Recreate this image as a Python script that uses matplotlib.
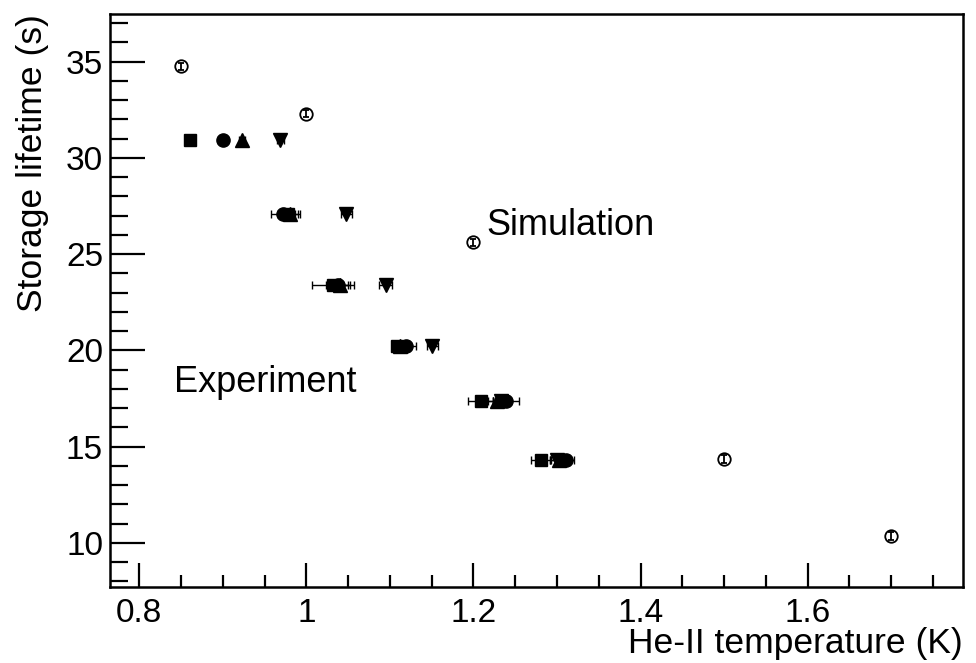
import numpy as np
import matplotlib
matplotlib.use("Agg")
import matplotlib.pyplot as plt
from matplotlib.ticker import MultipleLocator

plt.rcParams['font.family'] = ['Liberation Sans', 'DejaVu Sans']

# experiment: storage lifetime (s) shared by the four data sets
lifetime = [30.9, 27.1, 23.4, 20.2, 17.35, 14.3]

sq_T = [0.861, 0.978, 1.032, 1.108, 1.209, 1.281]
sq_err = [0.004, 0.012, 0.025, 0.006, 0.015, 0.012]
circ_T = [0.900, 0.972, 1.038, 1.119, 1.239, 1.311]
circ_err = [0.004, 0.014, 0.014, 0.012, 0.015, 0.009]
tup_T = [0.923, 0.981, 1.040, 1.112, 1.228, 1.302]
tup_err = [0.004, 0.012, 0.010, 0.008, 0.010, 0.010]
tdn_T = [0.969, 1.048, 1.095, 1.151, 1.233, 1.300]
tdn_err = [0.004, 0.007, 0.008, 0.006, 0.010, 0.008]

# simulation
sim_T = [0.85, 1.0, 1.2, 1.5, 1.7]
sim_tau = [34.75, 32.3, 25.6, 14.35, 10.35]
sim_err = [0.2, 0.2, 0.2, 0.2, 0.2]

fig = plt.figure(figsize=(9.76, 6.63), dpi=100)
ax = fig.add_axes([0.1127, 0.1146, 0.874, 0.864])

sets = [(sq_T, sq_err, 's', 9), (circ_T, circ_err, 'o', 9.5),
        (tup_T, tup_err, '^', 10), (tdn_T, tdn_err, 'v', 10)]
for T, err, mk, ms in sets:
    ax.errorbar(T, lifetime, xerr=err, fmt=mk, color='black', ms=ms,
                elinewidth=1, capsize=3, capthick=1)

ax.errorbar(sim_T, sim_tau, yerr=sim_err, fmt='o', mfc='none', mec='black',
            mew=1.3, ms=9, color='black', elinewidth=1.3, capsize=2.5, capthick=1.3)

ax.text(1.215, 25.98, 'Simulation', fontsize=26, va='baseline')
ax.text(0.842, 17.82, 'Experiment', fontsize=26, va='baseline')

ax.set_xlim(0.765, 1.786)
ax.set_ylim(7.7, 37.46)
ax.xaxis.set_major_locator(MultipleLocator(0.2))
ax.xaxis.set_minor_locator(MultipleLocator(0.05))
ax.yaxis.set_major_locator(MultipleLocator(5))
ax.yaxis.set_minor_locator(MultipleLocator(1))
ax.set_xticks([0.8, 1.0, 1.2, 1.4, 1.6])
ax.set_xticklabels(['0.8', '1', '1.2', '1.4', '1.6'])

ax.tick_params(axis='both', which='both', direction='in', top=False, right=False,
               labelsize=24, width=1.6)
ax.tick_params(axis='x', which='major', length=17, pad=8)
ax.tick_params(axis='x', which='minor', length=9)
ax.tick_params(axis='y', which='major', length=25, pad=5)
ax.tick_params(axis='y', which='minor', length=13)
for s in ax.spines.values():
    s.set_linewidth(1.8)

ax.set_xlabel('He-II temperature (K)', fontsize=25.5, ha='right', va='bottom')
ax.xaxis.set_label_coords(1.0, -0.128)
ax.set_ylabel('Storage lifetime (s)', fontsize=25.5, loc='top', labelpad=12)

fig.savefig('out.png', dpi=100)
